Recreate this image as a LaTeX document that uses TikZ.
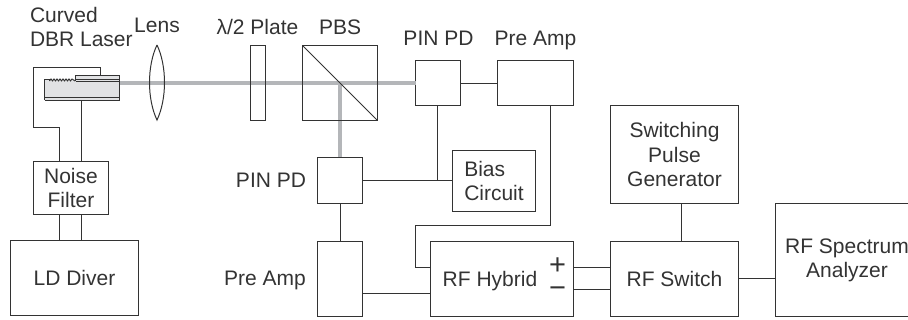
\documentclass[tikz,border=0pt]{standalone}
\usepackage{fontspec}
\setmainfont{Liberation Sans}
\definecolor{ink}{HTML}{333333}
\definecolor{beamc}{HTML}{B4B6B9}
\definecolor{chipc}{HTML}{E1E2E4}
\tikzset{
  unit/.style={draw=ink,line width=1.2pt,rectangle,inner sep=0pt,outer sep=0pt,text=ink,align=center,font=\fontsize{21}{24.3}\selectfont},
  lbl/.style={inner sep=0pt,outer sep=0pt,text=ink,anchor=base,font=\fontsize{21}{24.3}\selectfont},
  wire/.style={draw=ink,line width=1.2pt},
  beam/.style={draw=beamc,line width=4pt},
  chip/.style={draw=ink,line width=1.1pt}
}
\begin{document}
\begin{tikzpicture}[x=1pt,y=-1pt]
\useasboundingbox (0,0) rectangle (908,320);
\clip (0,0) rectangle (908,320);
% reference rows and columns for the wires
\coordinate (beamstart) at (120,83);
\coordinate (rowa) at (0,83.5);
\coordinate (rowb) at (0,180.5);
\coordinate (colpin) at (437.5,0);
\coordinate (colmid) at (340.5,0);
\coordinate (colnl) at (59.5,0);
\coordinate (colnr) at (81.5,0);
\coordinate (rowh) at (0,293.5);
\coordinate (rowp) at (0,267.5);
\coordinate (rowm) at (0,289.5);
\coordinate (rows) at (0,278.5);
\coordinate (colpulse) at (681.5,0);
% units
\node[unit,minimum width=15,minimum height=75] (plate) at (258,83) {};
\node[unit,minimum width=75,minimum height=75] (pbs) at (340,83) {};
\node[unit,minimum width=45,minimum height=45] (pina) at (438,83) {};
\node[unit,minimum width=76,minimum height=45] (ampa) at (535.5,83) {};
\node[unit,minimum width=45,minimum height=46] (pinb) at (340,180.5) {};
\node[unit,minimum width=83,minimum height=61,align=left] (bias) at (494,181) {Bias\\Circuit};
\node[unit,minimum width=75,minimum height=53] (noise) at (71,188) {Noise\\Filter};
\node[unit,minimum width=128,minimum height=75] (ld) at (74.5,278) {LD Diver};
\node[unit,minimum width=45,minimum height=75] (ampb) at (340,279) {};
\node[unit,minimum width=143,minimum height=75] (hybrid) at (502,279) {};
\node[unit,minimum width=128,minimum height=75] (switch) at (674.5,279) {RF Switch};
\node[unit,minimum width=128,minimum height=98] (pulse) at (674.5,154.5) {Switching\\Pulse\\Generator};
\node[unit,minimum width=143,minimum height=113] (spec) at (847,260) {RF Spectrum\\Analyzer};
% beam
\draw[beam] (beamstart) -- (pina.west);
\draw[beam] (pbs.center) -- (pinb.north);
% outlines crossed by the beam
\draw[wire] (plate.north west) rectangle (plate.south east);
\draw[wire] (pbs.north west) rectangle (pbs.south east);
\draw[wire,line width=1pt] (pbs.north west) -- (pbs.south east);
% lens
\coordinate (lenstop) at (157,45);
\coordinate (lensbot) at (157,120);
\draw[wire,line width=1pt] (lenstop) .. controls (147,66) and (147,99) .. (lensbot) .. controls (167,99) and (167,66) .. (lenstop);
% laser chip
\fill[chipc] (44.5,79.5) rectangle (119.5,100.5);
\fill[chipc] (75,75) rectangle (119.5,82);
\coordinate (ridgetop) at (100.5,75.5);
\coordinate (chipbot) at (81.5,100.5);
\draw[chip] (44.5,100.5) -- (44.5,79.5) -- (49.5,79.5) -- (49.5,81.5);
\draw[chip,line width=.9pt] (49.5,81) -- (51,79) -- (52.5,81) -- (54,79) -- (55.5,81) -- (57,79) -- (58.5,81) -- (60,79) -- (61.5,81) -- (63,79) -- (64.5,81) -- (66,79) -- (67.5,81) -- (69,79) -- (70.5,81) -- (72,79) -- (75,81);
\draw[chip] (75.5,81.5) -- (75.5,75.5) -- (119.5,75.5) -- (119.5,100.5) -- (44.5,100.5);
\draw[chip] (75.5,79.5) -- (119.5,79.5);
\draw[chip] (44.5,97.5) -- (119.5,97.5);
\draw[draw=ink,line width=.5pt] (75.5,81.5) -- (119.5,81.5);
% wires
\coordinate (wtl) at (33.5,67.5);
\coordinate (wbl) at (33.5,127.5);
\draw[wire] (ridgetop) |- (wtl) |- (wbl) -| (colnl |- noise.north);
\draw[wire] (chipbot) -- (colnr |- noise.north);
\draw[wire] (colnl |- noise.south) -- (colnl |- ld.north);
\draw[wire] (colnr |- noise.south) -- (colnr |- ld.north);
\draw[wire] (pina.east |- rowa) -- (ampa.west |- rowa);
\draw[wire] (colpin |- pina.south) -- (colpin |- rowb);
\draw[wire] (pinb.east |- rowb) -- (bias.west |- rowb);
\draw[wire] (colmid |- pinb.south) -- (colmid |- ampb.north);
\coordinate (ampdrop) at (550.5,225.5);
\coordinate (hybin) at (415.5,267.5);
\draw[wire] (ampdrop |- ampa.south) -- (ampdrop) -| (hybin) -- (hybin -| hybrid.west);
\draw[wire] (ampb.east |- rowh) -- (hybrid.west |- rowh);
\draw[wire] (hybrid.east |- rowp) -- (switch.west |- rowp);
\draw[wire] (hybrid.east |- rowm) -- (switch.west |- rowm);
\draw[wire] (colpulse |- pulse.south) -- (colpulse |- switch.north);
\draw[wire] (switch.east |- rows) -- (spec.west |- rows);
% labels
\node[lbl,anchor=base west] (l1) at (30,23) {Curved};
\node[lbl,anchor=base west] (l2) at (30,46.7) {DBR Laser};
\node[lbl] (l3) at (157,32.7) {Lens};
\node[lbl] (l4) at (257.5,35) {λ/2 Plate};
\node[lbl] (l5) at (340.2,35) {PBS};
\node[lbl] (l6) at (438.5,45.7) {PIN PD};
\node[lbl] (l7) at (535.5,45.7) {Pre Amp};
\node[lbl] (l8) at (271,187.7) {PIN PD};
\node[lbl] (l9) at (265,285.7) {Pre Amp};
\node[lbl] (l10) at (490,286.7) {RF Hybrid};
\node[inner sep=0pt,outer sep=0pt,text=ink,align=center,font=\fontsize{29}{22.6}\selectfont] (l11) at (557.5,277.7) {+\\−};
\end{tikzpicture}
\end{document}
